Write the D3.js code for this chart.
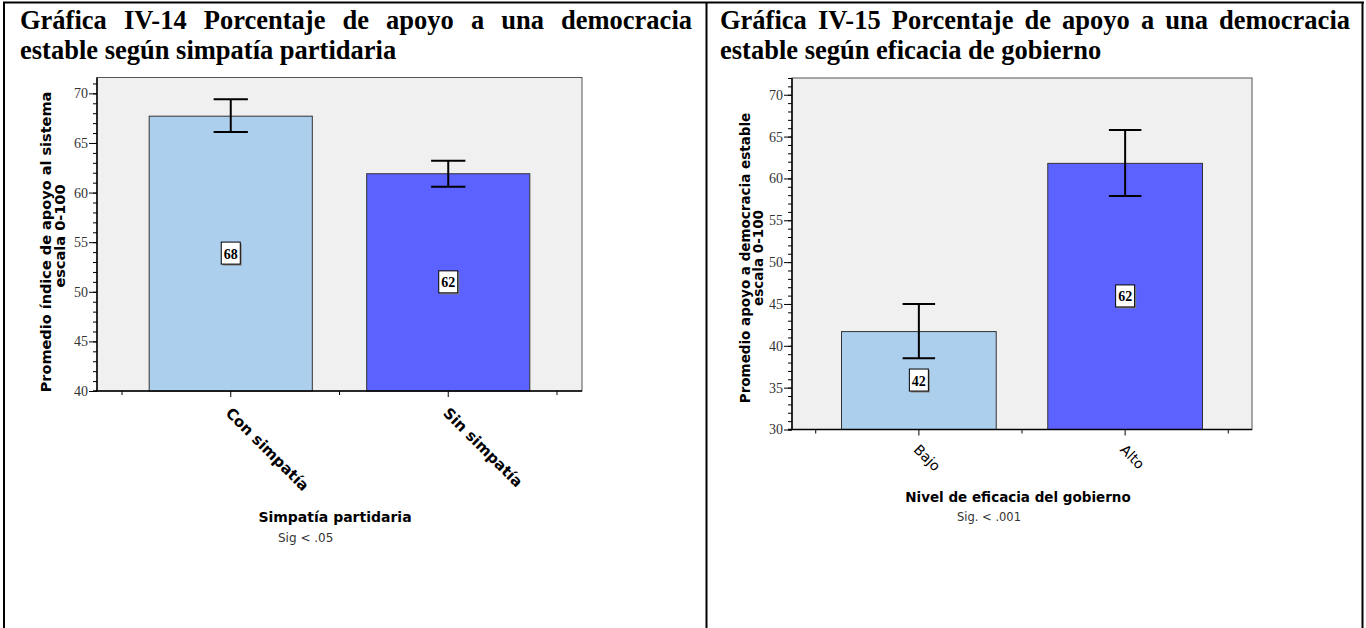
<!DOCTYPE html>
<html>
<head>
<meta charset="utf-8">
<script src="https://cdn.jsdelivr.net/npm/d3@7"></script>
<style>
  body { margin: 0; background: #fff; }
  svg { display: block; }
</style>
</head>
<body>
<div id="chart"></div>
<script>
// Grafica IV-14
var cats14 = ["Con simpatía", "Sin simpatía"];
var mean14 = [67.7, 61.9];
var low14 = [66.1, 60.6];
var high14 = [69.4, 63.2];
var lab14 = ["68", "62"];
var ticks14 = [40, 45, 50, 55, 60, 65, 70];

// Grafica IV-15
var cats15 = ["Bajo", "Alto"];
var mean15 = [41.7, 61.8];
var low15 = [38.5, 57.9];
var high15 = [45.0, 65.8];
var lab15 = ["42", "62"];
var ticks15 = [30, 35, 40, 45, 50, 55, 60, 65, 70];

var barColors = ["#accfee", "#5c62ff"];

var svg = d3.select("#chart")
  .append("svg")
    .attr("width", 1366)
    .attr("height", 628);

// table lines
svg.append("line").attr("x1", 3).attr("x2", 1364).attr("y1", 2.5).attr("y2", 2.5)
  .attr("stroke", "#000").attr("stroke-width", 2);
[4, 706.5, 1362.5].forEach(function(x) {
  svg.append("line").attr("x1", x).attr("x2", x).attr("y1", 2).attr("y2", 628)
    .attr("stroke", "#000").attr("stroke-width", 2);
});

// justified two-line title
function title(line1, line2, x0, x1, y) {
  var g = svg.append("g")
    .style("font-family", "'Liberation Serif', 'Times New Roman', serif")
    .style("font-weight", "bold")
    .style("font-size", "26.5px");
  var words = line1.split(" ");
  var nodes = words.map(function(w) {
    return g.append("text").attr("y", y).text(w);
  });
  var widths = nodes.map(function(n) { return n.node().getComputedTextLength(); });
  var gap = (x1 - x0 - d3.sum(widths)) / (words.length - 1);
  var cx = x0;
  nodes.forEach(function(n, i) {
    n.attr("x", cx);
    cx += widths[i] + gap;
  });
  g.append("text").attr("x", x0).attr("y", y + 30).text(line2);
}

title("Gráfica IV-14 Porcentaje de apoyo a una democracia",
      "estable según simpatía partidaria", 20, 692, 29);
title("Gráfica IV-15 Porcentaje de apoyo a una democracia",
      "estable según eficacia de gobierno", 720, 1350, 29);

function drawChart(c) {
  var x = d3.scaleBand()
    .domain(c.cats)
    .range([c.left, c.right])
    .paddingInner(0.25)
    .paddingOuter(0.24);
  var y = d3.scaleLinear()
    .domain(c.domain)
    .range([c.bottom, c.top]);

  var g = svg.append("g");

  // plot background
  g.append("rect")
    .attr("x", c.left).attr("y", c.top)
    .attr("width", c.right - c.left).attr("height", c.bottom - c.top)
    .attr("fill", "#f0f0f0")
    .attr("stroke", "#555")
    .attr("stroke-width", 1);

  // bars
  g.selectAll(".bar")
    .data(c.cats)
    .enter()
    .append("rect")
      .attr("class", "bar")
      .attr("x", function(d) { return x(d); })
      .attr("y", function(d, i) { return y(c.mean[i]); })
      .attr("width", x.bandwidth())
      .attr("height", function(d, i) { return c.bottom - y(c.mean[i]); })
      .attr("fill", function(d, i) { return barColors[i]; })
      .attr("stroke", "#333")
      .attr("stroke-width", 1);

  // error bars
  var cap = x.bandwidth() * 0.105;
  c.cats.forEach(function(d, i) {
    var cx = x(d) + x.bandwidth() / 2;
    g.append("line")
      .attr("x1", cx).attr("x2", cx)
      .attr("y1", y(c.low[i])).attr("y2", y(c.high[i]))
      .attr("stroke", "#000").attr("stroke-width", 2);
    [c.low[i], c.high[i]].forEach(function(v) {
      g.append("line")
        .attr("x1", cx - cap).attr("x2", cx + cap)
        .attr("y1", y(v)).attr("y2", y(v))
        .attr("stroke", "#000").attr("stroke-width", 2);
    });

    // value label in the middle of the bar
    var cy = y((c.domain[0] + c.mean[i]) / 2);
    g.append("rect")
      .attr("x", cx - 9 + 1).attr("y", cy - 11 + 1)
      .attr("width", 19).attr("height", 22)
      .attr("fill", "#888");
    g.append("rect")
      .attr("x", cx - 9.5).attr("y", cy - 11.5)
      .attr("width", 19).attr("height", 22)
      .attr("fill", "#fff")
      .attr("stroke", "#000").attr("stroke-width", 1);
    g.append("text")
      .attr("x", cx).attr("y", cy + 5)
      .attr("text-anchor", "middle")
      .style("font-family", "'Liberation Serif', 'Times New Roman', serif")
      .style("font-weight", "bold")
      .style("font-size", "14px")
      .text(c.lab[i]);
  });

  // y axis, minor ticks every unit
  var minor = d3.range(c.domain[0], Math.floor(c.domain[1]) + 1);
  g.append("g")
    .attr("transform", "translate(" + c.left + ",0)")
    .call(d3.axisLeft(y).tickValues(minor).tickSize(4).tickFormat(""))
    .call(function(a) { a.select(".domain").remove(); });
  var ya = g.append("g")
    .attr("transform", "translate(" + c.left + ",0)")
    .call(d3.axisLeft(y).tickValues(c.ticks).tickSize(8).tickPadding(1).tickSizeOuter(0));
  ya.select(".domain").attr("d", "M0," + c.top + "V" + c.bottom).attr("stroke-width", 1.5);
  ya.selectAll("text")
    .style("font-family", "'Liberation Serif', 'Times New Roman', serif")
    .style("font-size", c.tickSize + "px")
    .attr("fill", "#333");

  // x axis
  var xa = g.append("g")
    .attr("transform", "translate(0," + c.bottom + ")")
    .call(d3.axisBottom(x).tickSize(6).tickSizeOuter(0).tickFormat(""));
  xa.select(".domain").attr("d", "M" + (c.left - 4) + ",0H" + c.right).attr("stroke-width", 1.5);
  var mids = [];
  c.cats.forEach(function(d) {
    var cx = x(d) + x.bandwidth() / 2;
    mids.push(cx - x.step() / 2);
  });
  mids.push(x(c.cats[c.cats.length - 1]) + x.bandwidth() / 2 + x.step() / 2);
  xa.selectAll(".minor")
    .data(mids)
    .enter()
    .append("line")
      .attr("class", "minor")
      .attr("x1", function(d) { return d; }).attr("x2", function(d) { return d; })
      .attr("y1", 0).attr("y2", 4)
      .attr("stroke", "#000");

  // rotated category labels
  c.cats.forEach(function(d) {
    var lx = x(d) + x.bandwidth() / 2 + c.labDx;
    var ly = c.bottom + c.labDy;
    g.append("text")
      .attr("transform", "translate(" + lx + "," + ly + ") rotate(45)")
      .style("font-family", "'DejaVu Sans', Verdana, sans-serif")
      .style("font-weight", c.labWeight)
      .style("font-size", c.labSize + "px")
      .text(d);
  });

  // axis titles
  g.append("text")
    .attr("x", c.xTitleX).attr("y", c.xTitleY)
    .attr("text-anchor", "middle")
    .style("font-family", "'DejaVu Sans', Verdana, sans-serif")
    .style("font-weight", "bold")
    .style("font-size", c.xTitleSize + "px")
    .text(c.xTitle);
  g.append("text")
    .attr("x", c.sigX).attr("y", c.sigY)
    .style("font-family", "'DejaVu Sans', Verdana, sans-serif")
    .style("font-size", c.sigSize + "px")
    .attr("fill", "#333")
    .text(c.sig);
  c.yTitle.forEach(function(t, i) {
    g.append("text")
      .attr("transform", "translate(" + c.yTitleX[i] + "," + c.yTitleY[i] + ") rotate(-90)")
      .attr("text-anchor", "middle")
      .style("font-family", "'DejaVu Sans', Verdana, sans-serif")
      .style("font-weight", "bold")
      .style("font-size", c.yTitleSize + "px")
      .text(t);
  });
}

drawChart({
  cats: cats14, mean: mean14, low: low14, high: high14, lab: lab14, ticks: ticks14,
  domain: [40, 71.6],
  left: 97, right: 582, top: 77.5, bottom: 391,
  tickSize: 14,
  labDx: -6, labDy: 23, labSize: 15, labWeight: "bold",
  xTitle: "Simpatía partidaria", xTitleX: 335, xTitleY: 522, xTitleSize: 14,
  sig: "Sig < .05", sigX: 278, sigY: 542, sigSize: 12,
  yTitle: ["Promedio índice de apoyo al sistema", "escala 0-100"],
  yTitleX: [51, 65], yTitleY: [242, 236], yTitleSize: 14.5
});

drawChart({
  cats: cats15, mean: mean15, low: low15, high: high15, lab: lab15, ticks: ticks15,
  domain: [30, 72],
  left: 792, right: 1252, top: 78, bottom: 429.5,
  tickSize: 14,
  labDx: -6, labDy: 21, labSize: 14, labWeight: "normal",
  xTitle: "Nivel de eficacia del gobierno", xTitleX: 1018, xTitleY: 502, xTitleSize: 13.5,
  sig: "Sig. < .001", sigX: 957, sigY: 521, sigSize: 11.5,
  yTitle: ["Promedio apoyo a democracia estable", "escala 0-100"],
  yTitleX: [750, 763], yTitleY: [258, 258], yTitleSize: 13.5
});
</script>
</body>
</html>
